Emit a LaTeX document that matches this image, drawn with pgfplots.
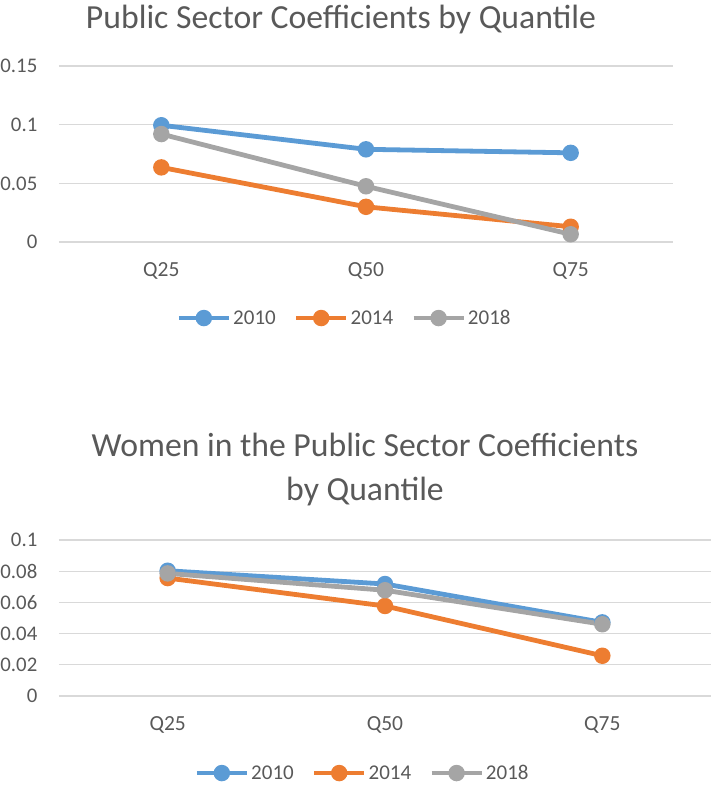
\documentclass[border=0pt]{standalone}
\usepackage{pgfplots}
\pgfplotsset{compat=1.18}
\usepackage{fontspec}
\setmainfont{Carlito}

\definecolor{txt}{HTML}{595959}
\definecolor{gridc}{HTML}{D9D9D9}
\definecolor{c2010}{HTML}{5B9BD5}
\definecolor{c2014}{HTML}{ED7D31}
\definecolor{c2018}{HTML}{A5A5A5}

\pgfplotsset{
  xlchart/.style={
    scale only axis,
    clip=false,
    axis line style={draw=none},
    major tick length=0pt,
    ymajorgrids,
    grid style={gridc, line width=1.2pt},
    xmin=-0.5, xmax=2.5,
    xtick={0,1,2},
    xticklabels={Q25,Q50,Q75},
    ymin=0,
    tick label style={font=\fontsize{20.8}{23}\selectfont, text=txt},
    /pgf/number format/assume math mode=true,
    yticklabel style={inner sep=0pt, anchor=east, xshift=-21.5pt},
    xticklabel style={inner sep=0pt, anchor=north, yshift=-20pt, font=\fontsize{21.5}{23}\selectfont},
    every axis plot/.append style={line width=4.8pt, mark=*, mark size=5.8pt},
    legend columns=3,
    legend style={draw=none, fill=none, anchor=center,
      font=\fontsize{21}{23}\selectfont, text=txt,
      nodes={inner sep=2pt},
      /tikz/every even column/.append style={column sep=16pt}},
    legend image code/.code={
      \draw[mark repeat=2, mark phase=2, #1] plot coordinates {(0pt,0pt) (25pt,0pt) (50pt,0pt)};
    },
  },
}

\begin{document}
\begin{tikzpicture}
\path[use as bounding box] (0,0) rectangle (710pt,-785pt);

% top chart
\node[text=txt, font=\fontsize{33.7}{36}\selectfont] at (341pt,-20pt) {Public Sector Coefficients by Quantile};
\begin{axis}[xlchart,
  at={(59pt,-242pt)}, anchor=south west,
  width=614pt, height=176pt,
  ymax=0.15,
  ytick={0,0.05,0.1,0.15},
  yticklabels={0,0.05,0.1,0.15},
  legend style={at={(0.465,-0.432)}},
]
\addplot[c2010] coordinates {(0,0.0995) (1,0.079) (2,0.076)};
\addlegendentry{2010}
\addplot[c2014] coordinates {(0,0.0636) (1,0.030) (2,0.0130)};
\addlegendentry{2014}
\addplot[c2018] coordinates {(0,0.092) (1,0.0475) (2,0.0066)};
\addlegendentry{2018}
\end{axis}

% bottom chart
\node[text=txt, font=\fontsize{33.7}{44}\selectfont, align=center] at (365pt,-470pt) {Women in the Public Sector Coefficients\\by Quantile};
\begin{axis}[xlchart,
  at={(59pt,-696pt)}, anchor=south west,
  width=652pt, height=156pt,
  ymax=0.1,
  ytick={0,0.02,0.04,0.06,0.08,0.1},
  yticklabels={0,0.02,0.04,0.06,0.08,0.1},
  legend style={at={(0.4655,-0.494)}},
]
\addplot[c2010] coordinates {(0,0.0803) (1,0.0718) (2,0.0472)};
\addlegendentry{2010}
\addplot[c2014] coordinates {(0,0.0756) (1,0.0577) (2,0.0258)};
\addlegendentry{2014}
\addplot[c2018] coordinates {(0,0.0786) (1,0.0678) (2,0.0460)};
\addlegendentry{2018}
\end{axis}
\end{tikzpicture}
\end{document}
